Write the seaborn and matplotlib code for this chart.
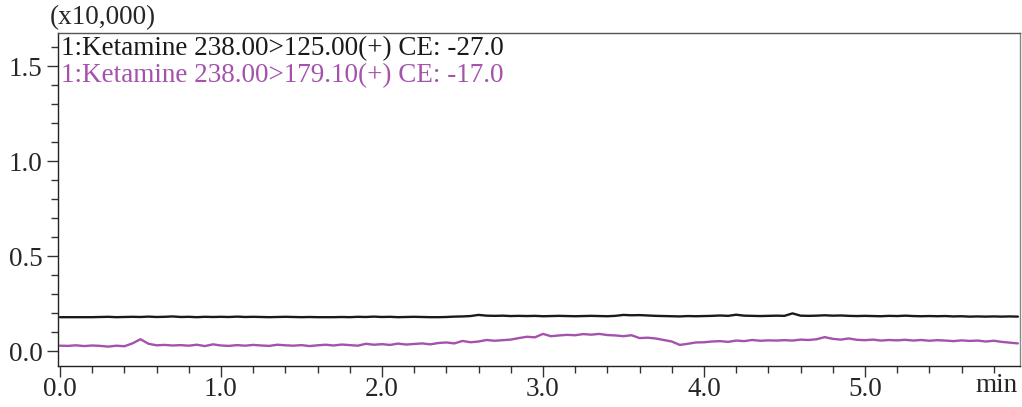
import numpy as np
import pandas as pd
import seaborn as sb
from matplotlib import pyplot as plt
from matplotlib.ticker import MultipleLocator

# * retention time grid (min), sampled every 0.05 min
time_min = np.round(np.arange(0, 5.96, 0.05), 2)

# * intensity (x10,000)
trace_125 = [
    0.178, 0.178, 0.178, 0.178, 0.178, 0.179, 0.180, 0.178, 0.179, 0.180,
    0.179, 0.181, 0.179, 0.180, 0.182, 0.179, 0.180, 0.178, 0.180, 0.179,
    0.180, 0.179, 0.181, 0.179, 0.180, 0.179, 0.178, 0.179, 0.180, 0.179,
    0.178, 0.179, 0.178, 0.178, 0.178, 0.179, 0.178, 0.180, 0.179, 0.181,
    0.179, 0.180, 0.178, 0.179, 0.180, 0.179, 0.178, 0.178, 0.179, 0.181,
    0.182, 0.184, 0.190, 0.186, 0.185, 0.186, 0.184, 0.185, 0.184, 0.185,
    0.183, 0.184, 0.185, 0.184, 0.183, 0.184, 0.185, 0.184, 0.183, 0.185,
    0.190, 0.188, 0.189, 0.187, 0.185, 0.184, 0.183, 0.182, 0.184, 0.183,
    0.184, 0.185, 0.187, 0.185, 0.191, 0.186, 0.185, 0.184, 0.185, 0.186,
    0.185, 0.198, 0.186, 0.185, 0.186, 0.188, 0.186, 0.187, 0.185, 0.184,
    0.185, 0.184, 0.183, 0.185, 0.184, 0.186, 0.184, 0.183, 0.184, 0.183,
    0.184, 0.182, 0.183, 0.181, 0.182, 0.181, 0.182, 0.181, 0.182, 0.181,
]
trace_179 = [
    0.028, 0.027, 0.030, 0.026, 0.029, 0.027, 0.023, 0.028, 0.025, 0.040,
    0.062, 0.038, 0.030, 0.032, 0.029, 0.031, 0.028, 0.033, 0.026, 0.035,
    0.029, 0.027, 0.031, 0.028, 0.032, 0.029, 0.027, 0.033, 0.030, 0.028,
    0.031, 0.026, 0.030, 0.033, 0.029, 0.034, 0.031, 0.028, 0.038, 0.033,
    0.036, 0.032, 0.039, 0.034, 0.037, 0.040, 0.035, 0.042, 0.045, 0.040,
    0.053, 0.046, 0.050, 0.058, 0.054, 0.057, 0.060, 0.068, 0.075, 0.072,
    0.090, 0.078, 0.082, 0.085, 0.083, 0.089, 0.086, 0.090, 0.084, 0.082,
    0.078, 0.083, 0.068, 0.070, 0.066, 0.058, 0.050, 0.032, 0.038, 0.045,
    0.046, 0.050, 0.052, 0.048, 0.055, 0.052, 0.058, 0.054, 0.056, 0.055,
    0.057, 0.055, 0.060, 0.058, 0.062, 0.073, 0.064, 0.060, 0.066, 0.059,
    0.057, 0.060, 0.055, 0.058, 0.056, 0.059, 0.055, 0.058, 0.054, 0.057,
    0.055, 0.052, 0.056, 0.053, 0.055, 0.050, 0.054, 0.048, 0.044, 0.040,
]
labels = [
    "1:Ketamine 238.00>125.00(+) CE: -27.0",
    "1:Ketamine 238.00>179.10(+) CE: -17.0",
]
colors = ["#1a1a1a", "#a452ac"]

df = pd.DataFrame({
    "time": np.concatenate([time_min, time_min]),
    "intensity": trace_125 + trace_179,
    "trace": [labels[0]] * len(time_min) + [labels[1]] * len(time_min),
})

sb.set_style("ticks")
plt.rcParams["font.family"] = ["Liberation Serif", "DejaVu Serif"]
fs = 19.5

fig = plt.figure(figsize=(10.22, 4.07), dpi=100)
ax = fig.add_axes([0.0568, 0.1007, 0.9412, 0.8183])

sb.lineplot(
    data=df, x="time", y="intensity", hue="trace",
    palette=colors, linewidth=1.7, legend=False, ax=ax,
)

ax.set_xlim(-0.012, 5.963)
ax.set_ylim(-0.079, 1.674)
ax.set_xlabel("")
ax.set_ylabel("")

ax.xaxis.set_major_locator(MultipleLocator(1.0))
ax.xaxis.set_minor_locator(MultipleLocator(0.2))
ax.yaxis.set_major_locator(MultipleLocator(0.5))
ax.yaxis.set_minor_locator(MultipleLocator(0.1))
ax.xaxis.set_major_formatter(lambda v, p: f"{v:.1f}")
ax.yaxis.set_major_formatter(lambda v, p: f"{v:.1f}")

ax.tick_params(which="major", length=8, width=1, color="#333333", labelsize=fs, pad=3)
ax.tick_params(axis="x", which="major", pad=0)
ax.tick_params(which="minor", length=5, width=1, color="#333333")
for side in ["left", "bottom", "top", "right"]:
    ax.spines[side].set_visible(True)
    ax.spines[side].set_linewidth(1.0)
    ax.spines[side].set_color("#222222")
ax.spines["top"].set_color("#555555")
ax.spines["right"].set_color("#888888")

# * trace labels top-left inside the plot
ax.text(0.003, 0.99, labels[0], transform=ax.transAxes, color=colors[0],
        fontsize=fs, va="top", ha="left")
ax.text(0.003, 0.91, labels[1], transform=ax.transAxes, color=colors[1],
        fontsize=fs, va="top", ha="left")

# * axis units
fig.text(50 / 1022, 1 - 18 / 407, "(x10,000)", fontsize=fs, va="center", ha="left")
fig.text(1018 / 1022, 1 - 385 / 407, "min", fontsize=fs, va="center", ha="right")

fig.savefig("out.png", dpi=100)
plt.close(fig)
